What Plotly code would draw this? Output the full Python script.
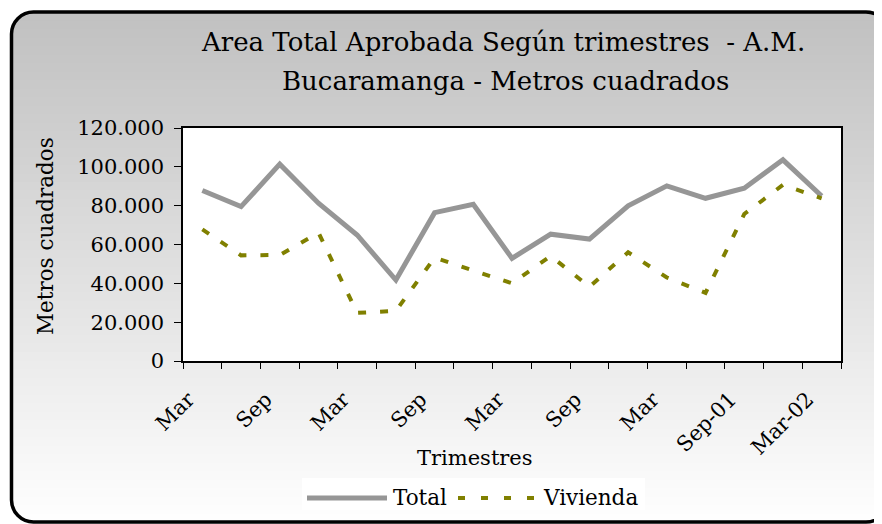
import plotly.graph_objects as go

# ---------------- data ----------------
quarters = ["Mar-98", "Jun-98", "Sep-98", "Dic-98", "Mar-99", "Jun-99", "Sep-99", "Dic-99",
            "Mar-00", "Jun-00", "Sep-00", "Dic-00", "Mar-01", "Jun-01", "Sep-01", "Dic-01", "Mar-02"]
total = [87800, 79500, 101400, 81300, 64900, 41700, 76400, 80700, 52900,
         65300, 62800, 79900, 90200, 83800, 89000, 103600, 85000]
vivienda = [67800, 54400, 54600, 66100, 24800, 25800, 53200, 46500, 40000,
            54100, 38200, 56000, 43000, 35100, 75700, 90700, 83800]
tick_labels = ["Mar", "Sep", "Mar", "Sep", "Mar", "Sep", "Mar", "Sep-01", "Mar-02"]
y_ticks = [0, 20000, 40000, 60000, 80000, 100000, 120000]

title_line1 = "Area Total Aprobada Según trimestres  - A.M."
title_line2 = "Bucaramanga - Metros cuadrados"

# ---------------- geometry (page pixels) ----------------
PAGE_W, PAGE_H = 882, 524
OFF = 8                      # default body margin of the page
L, R, T, B = 183, 841, 128, 361
FONT = "DejaVu Serif"


def px(x):
    return (x - L) / (R - L)


def py(y):
    return (B - y) / (B - T)


xi = list(range(len(quarters)))

fig = go.Figure()
fig.add_trace(go.Scatter(x=xi, y=total, name="Total", mode="lines",
                         line=dict(color="#969696", width=5), customdata=quarters,
                         hovertemplate="%{customdata}: %{y:,}<extra>Total</extra>"))
fig.add_trace(go.Scatter(x=xi, y=vivienda, name="Vivienda", mode="lines",
                         line=dict(color="#808000", width=4, dash="8px,14px"), customdata=quarters,
                         hovertemplate="%{customdata}: %{y:,}<extra>Vivienda</extra>"))

shapes = []
# gradient background inside the border
bx0, by0, bx1, by1, rad = 11.5, 12, 888, 522, 22
N = 60
for i in range(N):
    y0 = by0 + (by1 - by0) * i / N
    y1 = by0 + (by1 - by0) * (i + 1) / N + 0.6
    t = (i + 0.5) / N
    c = int(round(192 + (255 - 192) * t))
    col = f"rgb({c},{c},{c})"
    shapes.append(dict(type="rect", xref="paper", yref="paper", layer="below",
                       x0=px(bx0), x1=px(PAGE_W + 10), y0=py(y0), y1=py(min(y1, by1)),
                       fillcolor=col, line=dict(width=0)))

k = 0.5523


def P(x, y):
    return f"{px(x):.5f},{py(y):.5f}"


# white corner masks (outside rounded corners)
corners = [
    (bx0, by0, 1, 1),
    (bx0, by1, 1, -1),
    (bx1, by0, -1, 1),
    (bx1, by1, -1, -1),
]
for cx, cy, sx, sy in corners:
    path = (f"M{P(cx - sx*2, cy - sy*2)} L{P(cx + sx*rad, cy - sy*2)} L{P(cx + sx*rad, cy)} "
            f"C{P(cx + sx*rad*(1-k), cy)} {P(cx, cy + sy*rad*(1-k))} {P(cx, cy + sy*rad)} "
            f"L{P(cx - sx*2, cy + sy*rad)} Z")
    shapes.append(dict(type="path", xref="paper", yref="paper", layer="below", path=path,
                       fillcolor="white", line=dict(width=0)))

# rounded border
bp = (f"M{P(bx0 + rad, by0)} L{P(bx1 - rad, by0)} "
      f"C{P(bx1 - rad*(1-k), by0)} {P(bx1, by0 + rad*(1-k))} {P(bx1, by0 + rad)} "
      f"L{P(bx1, by1 - rad)} "
      f"C{P(bx1, by1 - rad*(1-k))} {P(bx1 - rad*(1-k), by1)} {P(bx1 - rad, by1)} "
      f"L{P(bx0 + rad, by1)} "
      f"C{P(bx0 + rad*(1-k), by1)} {P(bx0, by1 - rad*(1-k))} {P(bx0, by1 - rad)} "
      f"L{P(bx0, by0 + rad)} "
      f"C{P(bx0, by0 + rad*(1-k))} {P(bx0 + rad*(1-k), by0)} {P(bx0 + rad, by0)} Z")
shapes.append(dict(type="path", xref="paper", yref="paper", layer="below", path=bp,
                   line=dict(color="black", width=3.5)))

# white plot area
shapes.append(dict(type="rect", xref="paper", yref="paper", layer="below",
                   x0=0, x1=1, y0=0, y1=1, fillcolor="white", line=dict(width=0)))

# legend box + swatches
shapes.append(dict(type="rect", xref="paper", yref="paper", layer="below",
                   x0=px(302), x1=px(645), y0=py(510), y1=py(478),
                   fillcolor="white", line=dict(width=0)))
shapes.append(dict(type="line", xref="paper", yref="paper", layer="above",
                   x0=px(307), x1=px(387), y0=py(498), y1=py(498),
                   line=dict(color="#969696", width=5)))
shapes.append(dict(type="line", xref="paper", yref="paper", layer="above",
                   x0=px(458), x1=px(535), y0=py(498), y1=py(498),
                   line=dict(color="#808000", width=4, dash="7px,16px")))

annotations = [
    dict(text=title_line1, xref="paper", yref="paper", x=px(503), y=py(42),
         xanchor="center", yanchor="middle", showarrow=False,
         font=dict(family=FONT, size=26, color="black")),
    dict(text=title_line2, xref="paper", yref="paper", x=px(505), y=py(81),
         xanchor="center", yanchor="middle", showarrow=False,
         font=dict(family=FONT, size=26, color="black")),
    dict(text="Metros cuadrados", xref="paper", yref="paper", x=px(45), y=py(236),
         xanchor="center", yanchor="middle", textangle=-90, showarrow=False,
         font=dict(family=FONT, size=21.5, color="black")),
    dict(text="Trimestres", xref="paper", yref="paper", x=px(475), y=py(458),
         xanchor="center", yanchor="middle", showarrow=False,
         font=dict(family=FONT, size=21, color="black")),
    dict(text="Total", xref="paper", yref="paper", x=px(391), y=py(497),
         xanchor="left", yanchor="middle", showarrow=False,
         font=dict(family=FONT, size=21.5, color="black")),
    dict(text="Vivienda", xref="paper", yref="paper", x=px(541), y=py(497),
         xanchor="left", yanchor="middle", showarrow=False,
         font=dict(family=FONT, size=21.5, color="black")),
]

fig.update_layout(
    width=PAGE_W - OFF, height=PAGE_H - OFF,
    margin=dict(l=L - OFF, r=PAGE_W - R, t=T - OFF, b=PAGE_H - B, pad=0),
    paper_bgcolor="white",
    plot_bgcolor="rgba(0,0,0,0)",
    separators=",.",
    showlegend=False,
    shapes=shapes,
    annotations=annotations,
    font=dict(family=FONT, size=21, color="black"),
)
fig.update_xaxes(
    range=[-0.5, len(quarters) - 0.5],
    tickmode="array",
    tickvals=xi[::2],
    ticktext=tick_labels,
    tickangle=-45,
    ticks="",
    ticklabelstandoff=16,
    ticklabelshift=-14,
    showgrid=False, zeroline=False,
    showline=True, linecolor="black", linewidth=1.5, mirror=True,
    minor=dict(tickmode="array", tickvals=[i - 0.5 for i in range(len(quarters) + 1)],
               ticks="outside", ticklen=6, tickcolor="black", tickwidth=1, showgrid=False),
    tickfont=dict(family=FONT, size=21, color="black"),
    automargin=False,
)
fig.update_yaxes(
    range=[0, 120000],
    tickmode="array",
    tickvals=y_ticks,
    tickformat=",d",
    ticks="outside", ticklen=7, tickcolor="black", tickwidth=1,
    ticklabelstandoff=6,
    showgrid=False, zeroline=False,
    showline=True, linecolor="black", linewidth=1.5, mirror=True,
    tickfont=dict(family=FONT, size=21, color="black"),
    automargin=False,
)

fig.write_html("out.html")
